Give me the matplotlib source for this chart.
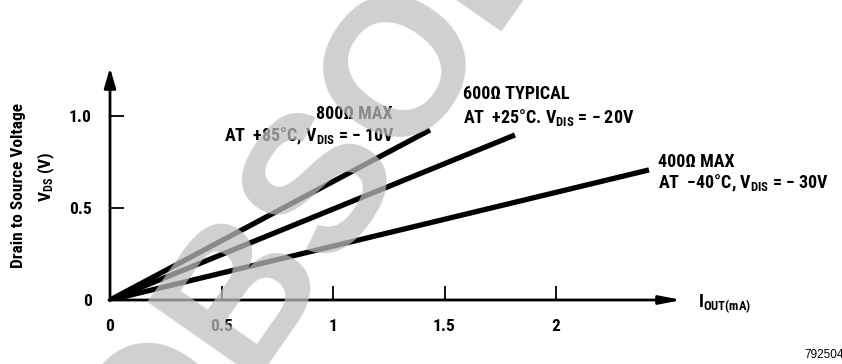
import matplotlib
matplotlib.use("Agg")
import matplotlib.pyplot as plt
from matplotlib import font_manager as fm

# ---- data ----
x_ticks = [0, 0.5, 1, 1.5, 2]
x_tick_labels = ["0", "0.5", "1", "1.5", "2"]
y_ticks = [0, 0.5, 1.0]
y_tick_labels = ["0", "0.5", "1.0"]

r800_x = [0, 1.435]
r800_y = [0, 0.924]
r600_x = [0, 1.816]
r600_y = [0, 0.897]
r400_x = [0, 2.417]
r400_y = [0, 0.707]

available = {f.name for f in fm.fontManager.ttflist}
prefs = ["Roboto Condensed", "Liberation Sans Narrow", "Arial Narrow"]
COND = next((p for p in prefs if p in available), "DejaVu Sans")

plt.rcParams["font.family"] = [COND, "DejaVu Sans"]
plt.rcParams["font.weight"] = "bold"
plt.rcParams["mathtext.fontset"] = "custom"
plt.rcParams["mathtext.rm"] = COND + ":bold"
plt.rcParams["mathtext.it"] = COND + ":bold"
plt.rcParams["mathtext.bf"] = COND + ":bold"
plt.rcParams["mathtext.default"] = "rm"

W, H = 842, 364
fig = plt.figure(figsize=(W / 100, H / 100), dpi=100)
x0, y0 = 110, 300
px_x, px_y = 223.0, 184.0
xmax, ymax = 2.6, 1.304
ax = fig.add_axes([x0 / W, (H - y0) / H, xmax * px_x / W, ymax * px_y / H])
ax.set_xlim(0, xmax)
ax.set_ylim(0, ymax)
for s in ax.spines.values():
    s.set_visible(False)
ax.patch.set_alpha(0)

fs = 12.5
ax.set_xticks(x_ticks)
ax.set_xticklabels(x_tick_labels)
ax.set_yticks(y_ticks)
ax.set_yticklabels(y_tick_labels)
ax.tick_params(axis="both", direction="in", length=10, width=1.3, colors="black",
               labelsize=fs)
ax.tick_params(axis="x", pad=14)
ax.tick_params(axis="y", pad=13)

ax.annotate("", xy=(0, 1.262), xytext=(0, -0.005),
            arrowprops=dict(arrowstyle="-|>,head_length=1.2,head_width=0.35",
                            color="black", lw=2, shrinkA=0, shrinkB=0))
ax.annotate("", xy=(2.565, 0), xytext=(-0.005, 0),
            arrowprops=dict(arrowstyle="-|>,head_length=1.3,head_width=0.25",
                            color="black", lw=2, shrinkA=0, shrinkB=0))

lw = 3.8
for xs, ys in [(r800_x, r800_y), (r600_x, r600_y), (r400_x, r400_y)]:
    ax.plot(xs, ys, color="black", lw=lw, solid_capstyle="butt")

fa = 13
ax.text(1.269, 0.982, "800Ω MAX", ha="right", va="baseline", fontsize=fa)
ax.text(1.278, 0.860, r"AT  +85°C, V$_{\mathrm{DIS}}$ = − 10V", ha="right", va="baseline", fontsize=fa)
ax.text(1.583, 1.091, "600Ω TYPICAL", ha="left", va="baseline", fontsize=fa)
ax.text(1.583, 0.960, r"AT  +25°C. V$_{\mathrm{DIS}}$ = − 20V", ha="left", va="baseline", fontsize=fa)
ax.text(2.457, 0.724, "400Ω MAX", ha="left", va="baseline", fontsize=fa)
ax.text(2.457, 0.607, r"AT  −40°C, V$_{\mathrm{DIS}}$ = − 30V", ha="left", va="baseline", fontsize=fa)
ax.text(2.637, -0.036, r"I$_{\mathrm{OUT(mA)}}$", ha="left", va="baseline", fontsize=fa)

fig.text(19 / W, 1 - 185 / H, "Drain to Source Voltage", rotation=90, ha="center", va="center",
         fontsize=fs)
fig.text(46 / W, 1 - 177 / H, r"V$_{\mathrm{DS}}$ (V)", rotation=90, ha="center", va="center",
         fontsize=fs)
fig.text(804 / W, 1 - 355 / H, "792504", ha="left", va="center", fontsize=8.5,
         fontweight="normal", family=["Liberation Sans", "DejaVu Sans"])

# "OBSOLETE" watermark overlay
fig.text(160 / W, 1 - 508 / H, "OBSOLETE", rotation=55, rotation_mode="anchor",
         ha="left", va="baseline",
         fontsize=141, color=(0.75, 0.75, 0.75), alpha=0.73,
         family=["Liberation Sans", "DejaVu Sans"], fontweight="bold", zorder=10)

fig.savefig("out.png", dpi=100)
